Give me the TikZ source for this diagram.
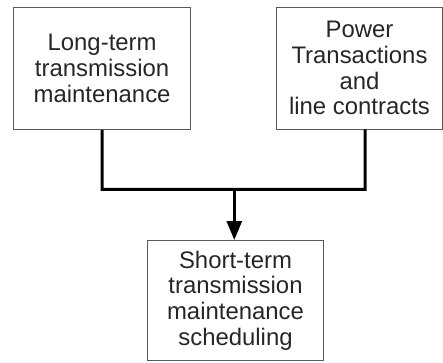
\documentclass[tikz,border=0pt]{standalone}
\usepackage{fontspec}
\setmainfont{Liberation Sans}
\usetikzlibrary{arrows.meta}
\begin{document}
\begin{tikzpicture}[x=1bp,y=-1bp,
  box/.style={draw=black!65,line width=1bp,inner sep=0pt,align=center,
    text=black!85,font=\fontsize{24}{25.8}\selectfont},
  conn/.style={line width=3bp,black}]
\useasboundingbox (0,0) rectangle (443,362);
% source boxes
\node[box,minimum width=177bp,minimum height=122bp] (A) at (102.1,68.3)
  {Long-term\\transmission\\maintenance};
\node[box,minimum width=165.5bp,minimum height=122bp] (B) at (359.5,68.3)
  {Power\\Transactions\\and\\line contracts};
% target box
\node[box,minimum width=175.5bp,minimum height=120.5bp] (C) at (235.5,300.4)
  {Short-term\\transmission\\maintenance\\scheduling};
% merging connector
\coordinate (lbend) at (102.2,189.3);
\coordinate (rbend) at (365,189.3);
\coordinate (rtop) at (365,129.3);
\coordinate (j) at (234.3,189.3);
\coordinate (jend) at (234.3,240);
\draw[conn,line join=miter] (A.south) -- (lbend) -- (rbend) -- (rtop);
\draw[conn,-{Triangle[length=19bp,width=15bp]}] (j) -- (jend);
\end{tikzpicture}
\end{document}
